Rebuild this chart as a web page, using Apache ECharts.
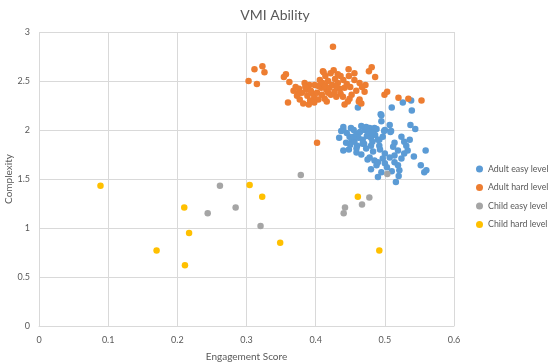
<!DOCTYPE html>
<html>
<head>
<meta charset="utf-8">
<script src="https://cdn.jsdelivr.net/npm/echarts@6/dist/echarts.min.js"></script>
<style>html,body{margin:0;padding:0;background:#fff}#c{width:550px;height:364px}</style>
</head>
<body>
<div id="c"></div>
<script>
var chartTitle = "VMI Ability";
var xAxisTitle = "Engagement Score";
var yAxisTitle = "Complexity";
var seriesNames = ["Adult easy level", "Adult hard level", "Child easy level", "Child hard level"];

var adultEasy = [
[0.461,2.23],[0.510,2.23],[0.526,2.28],[0.538,2.30],[0.539,2.20],
[0.494,2.16],[0.495,2.09],[0.507,2.05],[0.537,2.05],[0.544,2.01],
[0.440,2.03],[0.440,2.00],[0.451,2.02],[0.434,1.92],[0.449,1.93],
[0.459,1.96],[0.464,1.98],[0.471,2.00],[0.478,2.02],[0.473,2.03],
[0.485,2.02],[0.488,2.01],[0.500,2.00],[0.508,1.98],[0.524,1.93],
[0.536,1.90],[0.437,1.99],[0.452,1.90],[0.456,1.88],[0.462,1.92],
[0.468,1.90],[0.474,1.94],[0.480,1.92],[0.486,1.95],[0.490,1.90],
[0.445,1.97],[0.455,2.00],[0.466,2.04],[0.476,1.98],[0.482,1.88],
[0.470,1.86],[0.460,1.84],[0.450,1.85],[0.444,1.87],[0.440,1.79],
[0.448,1.80],[0.459,1.81],[0.459,1.77],[0.468,1.86],[0.473,1.81],
[0.480,1.84],[0.483,1.78],[0.478,1.72],[0.485,1.69],[0.480,1.60],
[0.488,1.64],[0.490,1.52],[0.492,1.90],[0.514,1.87],[0.528,1.88],
[0.492,1.84],[0.493,1.80],[0.512,1.83],[0.519,1.79],[0.531,1.84],
[0.533,1.79],[0.559,1.79],[0.542,1.73],[0.500,1.76],[0.507,1.72],
[0.514,1.74],[0.524,1.71],[0.490,1.67],[0.500,1.66],[0.514,1.67],
[0.519,1.64],[0.552,1.64],[0.557,1.57],[0.560,1.59],[0.495,1.57],
[0.521,1.59],[0.520,1.53],[0.516,1.47],[0.499,1.99],[0.509,1.99],
[0.495,2.15],[0.466,1.75],[0.475,1.70],[0.497,1.71],[0.503,1.62],
[0.510,1.58],[0.528,1.76],[0.455,1.93],[0.482,1.97],[0.497,1.93]
];

var adultHard = [
[0.3115,2.62],[0.323,2.65],[0.326,2.59],[0.303,2.50],[0.315,2.47],
[0.357,2.57],[0.354,2.54],[0.362,2.49],[0.360,2.28],[0.402,1.87],
[0.3745,2.37],[0.371,2.44],[0.377,2.31],[0.382,2.27],[0.390,2.26],
[0.384,2.48],[0.391,2.46],[0.3865,2.41],[0.396,2.37],[0.3985,2.46],
[0.406,2.51],[0.408,2.43],[0.4105,2.60],[0.425,2.85],[0.4115,2.59],
[0.426,2.61],[0.4216,2.58],[0.4476,2.62],[0.456,2.58],[0.481,2.64],
[0.477,2.60],[0.486,2.54],[0.440,2.51],[0.456,2.51],[0.4635,2.48],
[0.472,2.46],[0.4418,2.43],[0.4587,2.40],[0.4707,2.39],[0.4274,2.39],
[0.4154,2.41],[0.413,2.32],[0.4298,2.34],[0.4394,2.34],[0.449,2.32],
[0.4466,2.29],[0.4418,2.26],[0.4635,2.31],[0.466,2.27],[0.4624,2.29],
[0.4995,2.36],[0.5034,2.39],[0.5197,2.33],[0.534,2.32],[0.553,2.30],
[0.376,2.42],[0.380,2.38],[0.388,2.35],[0.393,2.40],[0.398,2.33],
[0.402,2.38],[0.404,2.45],[0.410,2.48],[0.414,2.45],[0.418,2.50],
[0.420,2.43],[0.424,2.46],[0.428,2.52],[0.432,2.48],[0.435,2.42],
[0.430,2.44],[0.418,2.38],[0.422,2.36],[0.409,2.36],[0.404,2.31],
[0.416,2.29],[0.392,2.30],[0.368,2.40],[0.373,2.35],[0.436,2.55],
[0.445,2.47],[0.450,2.44],[0.452,2.36],[0.436,2.37],[0.398,2.28],
[0.385,2.44],[0.414,2.55],[0.432,2.57],[0.448,2.55],[0.467,2.44]
];

var childEasy = [
[0.2616,1.43],[0.2439,1.15],[0.2843,1.21],[0.3203,1.02],[0.3785,1.54],
[0.4424,1.21],[0.4405,1.15],[0.467,1.24],[0.4776,1.31],[0.5036,1.55]
];

var childHard = [
[0.0889,1.43],[0.210,1.21],[0.217,0.95],[0.170,0.77],[0.211,0.62],
[0.3045,1.44],[0.3227,1.32],[0.3487,0.85],[0.461,1.32],[0.492,0.77]
];

var colors = ["#5B9BD5", "#ED7D31", "#A5A5A5", "#FFC000"];
var font = "Lato, 'Open Sans', sans-serif";
var txt = "#595959";
var dataSets = [adultEasy, adultHard, childEasy, childHard];

var chart = echarts.init(document.getElementById('c'), null, {renderer: 'canvas'});
chart.setOption({
  animation: false,
  backgroundColor: '#fff',
  color: colors,
  title: {
    text: chartTitle, left: 'center', top: 3,
    textStyle: {fontFamily: font, fontSize: 14, fontWeight: 'normal', color: txt}
  },
  grid: {left: 39, right: 96, top: 32, bottom: 38, containLabel: false, outerBoundsMode: 'none'},
  legend: {
    orient: 'vertical', left: 476, top: 163, padding: 0,
    icon: 'circle', itemWidth: 7, itemHeight: 7, itemGap: 6.5,
    textStyle: {fontFamily: font, fontSize: 8.8, color: txt, lineHeight: 12, overflow: 'none', width: 80},
    data: seriesNames
  },
  xAxis: {
    type: 'value', min: 0, max: 0.6, interval: 0.1,
    name: xAxisTitle, nameLocation: 'middle', nameGap: 26,
    nameTextStyle: {fontFamily: font, fontSize: 10, color: txt},
    axisLine: {show: true, lineStyle: {color: '#d9d9d9'}},
    axisTick: {show: false},
    axisLabel: {fontFamily: font, fontSize: 9, color: txt, margin: 10},
    splitLine: {show: true, lineStyle: {color: '#d9d9d9'}}
  },
  yAxis: {
    type: 'value', min: 0, max: 3, interval: 0.5,
    name: yAxisTitle, nameLocation: 'middle', nameGap: 25, nameMoveOverlap: false,
    nameTextStyle: {fontFamily: font, fontSize: 10, color: txt},
    axisLine: {show: false},
    axisTick: {show: false},
    axisLabel: {fontFamily: font, fontSize: 9, color: txt, margin: 9},
    splitLine: {show: true, lineStyle: {color: '#d9d9d9'}}
  },
  series: seriesNames.map(function (n, i) {
    return {
      name: n, type: 'scatter', symbol: 'circle', symbolSize: 6.5,
      itemStyle: {color: colors[i], opacity: 1},
      data: dataSets[i]
    };
  })
});
</script>
</body>
</html>
